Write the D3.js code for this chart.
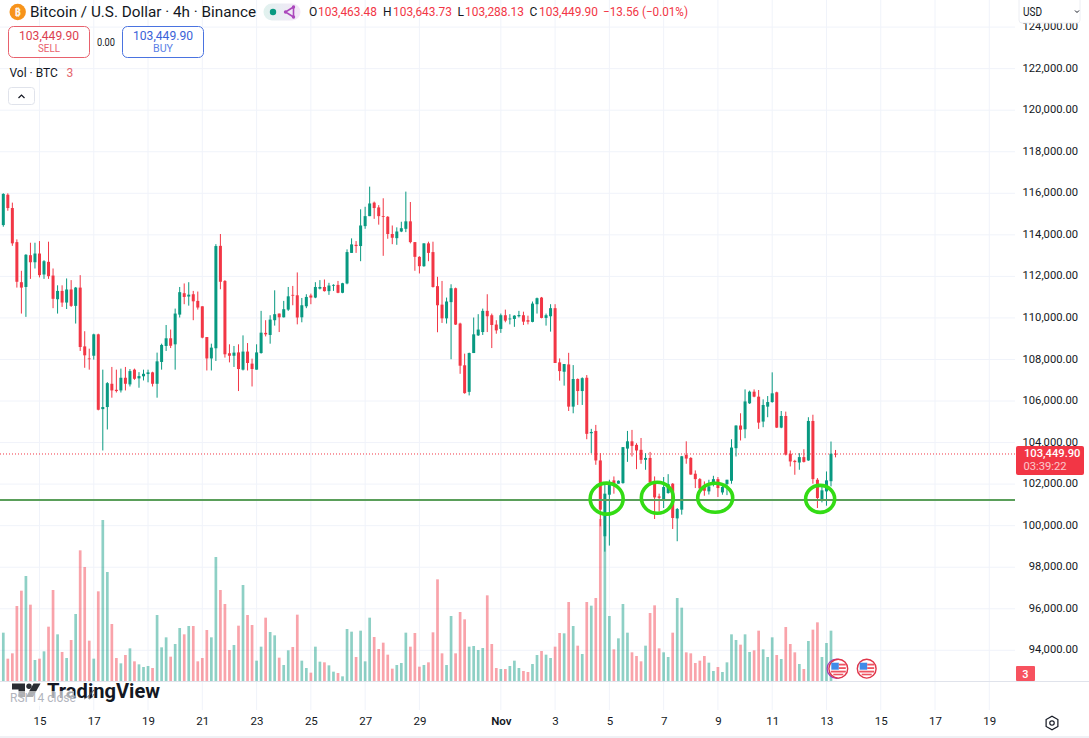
<!DOCTYPE html>
<html>
<head>
<meta charset="utf-8">
<title>BTC/USD 4h</title>
<script src="https://cdn.jsdelivr.net/npm/d3@7/dist/d3.min.js"></script>
<style>
  html, body { margin: 0; padding: 0; background: #fff; }
  svg { display: block; }
  text { font-family: "Roboto", "Noto Sans", sans-serif; }
</style>
</head>
<body>
<svg id="chart" width="1089" height="738"></svg>
<script>
// 4h candles, oldest first: [open, high, low, close]
const ohlc = [
[114470,116000,114390,115970],[115930,116000,115160,115290],[115290,115550,113470,113590],[113650,113780,111460,111740],
[111720,112270,110210,111460],[111490,113070,110050,113040],[113020,113620,111880,112680],[112680,113620,112380,113100],
[113100,113700,111950,112060],[112090,112780,111880,112730],[112700,113670,111880,112010],[112040,112380,110470,110920],
[110900,111570,110210,111300],[111300,111570,110530,110740],[110740,111900,110430,111370],[111370,111820,110530,110580],
[110580,111490,109730,111460],[111460,112060,108410,108600],[108630,109360,107600,108200],[108050,108520,107510,108020],
[108180,109240,107990,109210],[109210,109240,105550,105580],[105610,107510,103620,105710],[105710,106910,104630,106860],
[106830,107640,106160,106510],[106540,107510,106410,106480],[106510,107560,106410,107120],[107120,107640,106510,106830],
[106800,107540,106700,107440],[107510,107560,107020,107070],[107090,107390,106640,107200],[107190,107510,106990,107310],
[107300,107510,106900,107380],[107380,107410,106700,106830],[106830,108330,106160,107910],[107880,108760,107510,108700],
[108650,109660,108410,109020],[109020,109440,108550,108660],[108730,110450,107510,110210],[110160,111490,110020,111240],
[111190,111660,110660,111010],[111030,111720,110590,111120],[111140,111300,109890,110800],[110820,111270,110400,110500],
[110560,110560,109020,109050],[109080,109080,107470,108050],[108050,108760,107470,108570],[108540,113550,107930,113460],
[113470,114040,111380,111740],[111780,111820,108090,108250],[108300,108730,107860,108180],[108180,108650,107640,108330],
[108340,108730,106480,107540],[107510,109160,107470,108380],[108380,108790,107470,107830],[107800,108040,106700,107540],
[107510,108730,107510,108340],[108310,110340,108280,109290],[109280,109890,109110,109210],[109180,110130,108760,109920],
[109890,111330,109630,110180],[110210,110210,109320,110030],[110030,110820,110020,110420],[110400,111490,110340,111040],
[111110,111540,110610,111080],[111090,112190,109690,110020],[110030,110960,109790,110610],[110560,111140,110470,111010],
[111080,111170,110660,110980],[110980,111720,110950,111490],[111410,111820,111370,111490],[111490,111850,111270,111290],
[111290,111690,111110,111560],[111560,111620,111300,111590],[111590,111780,111190,111210],[111210,111690,111190,111670],
[111660,113300,111620,113170],[113130,113830,113130,113540],[113520,113700,113130,113460],[113460,115230,112730,114450],
[114420,115350,114290,114900],[114900,116320,114900,115510],[115550,115600,114770,115290],[115320,115430,114490,114900],
[114900,115760,112990,114890],[114870,114900,113810,114040],[114040,114450,113550,113860],[113840,114360,113520,114160],
[114160,114630,114130,114320],[114290,116080,114130,114650],[114650,115580,113590,113650],[113650,113650,112270,112940],
[112940,112970,112140,112490],[112490,113590,112460,113590],[113590,113670,112730,113130],[113170,113670,111460,111490],
[111530,111980,109310,110610],[110640,111780,109760,109980],[109980,110980,109730,110790],[110760,111620,108010,111430],
[111430,111460,109660,109680],[109730,109770,107310,107700],[107720,108280,106350,106380],[106440,108330,106270,108310],
[108310,110020,108310,109210],[109160,110180,109130,109440],[109320,110450,109180,110340],[110340,111140,109320,110080],
[110130,110210,108550,109660],[109680,109890,109240,109400],[109470,110210,109280,110130],[110130,110400,109790,109870],
[109950,110180,109690,109970],[109950,110130,109570,110110],[110080,110340,110020,110140],[110130,110300,109660,109820],
[109890,110110,109690,109820],[109810,110790,109790,110690],[110660,110980,110210,110950],[110980,111010,109980,110000],
[110000,110210,109630,110130],[110080,110660,109340,110470],[110470,110660,107830,107830],[107860,108050,106980,107440],
[107410,107780,106740,107780],[107760,108320,105520,105730],[105730,107730,105410,107060],[107060,107090,105810,106480],
[106480,107140,105810,107100],[107120,107250,104160,104420],[104450,104660,103490,104510],[104560,104850,102930,103140],
[103140,103490,99970,100770],[99490,102020,98750,101540],[101490,102210,99040,102020],[102180,102370,101540,102020],
[102020,102180,102020,102160],[102050,103780,102020,103780],[103710,104560,103070,104060],[104060,104610,103330,103840],
[103890,103970,102720,103620],[103650,104220,102980,103170],[103170,103490,102690,103260],[103260,103550,102050,102080],
[102080,102370,100320,101360],[101410,101540,100690,101340],[101250,102340,100850,101860],[101570,102480,101540,102000],
[102020,102050,99840,100370],[100350,100850,99250,100800],[100770,103360,100530,103340],[103410,104060,102980,103230],
[103260,103300,102450,102460],[102500,102660,101810,102240],[102240,102290,101760,101790],[101950,102130,101440,101680],
[101650,102210,101500,101890],[102050,102400,101890,102240],[102240,102340,101380,101810],[101600,102050,101490,101860],
[102000,102210,101470,102210],[102160,104160,102020,103760],[103730,104830,103330,104820],[104820,105410,104100,104620],
[104640,106560,104210,105980],[105890,106500,105860,106450],[106450,106560,106180,106210],[106210,106530,104660,104960],
[105010,106080,104740,105810],[105730,106240,105220,105950],[105950,107380,105920,106370],[106420,106450,104700,104720],
[104720,105520,104690,105280],[105280,105490,103380,103420],[103460,103620,102850,103090],[103120,103170,102450,103060],
[103040,103490,102690,103300],[103300,103680,103040,103070],[103140,105220,103120,105040],[105040,105340,102020,102240],
[102210,102290,100850,101330],[101280,101920,101120,101700],[101650,102610,100960,102180],[102140,104050,101890,103463.48],
[103463.48,103643.73,103288.13,103449.90]
];

// Traded volume per bar, in BTC
const volumes = [
1450,670,830,2250,2710,3150,2290,630,670,890,
1630,2730,1400,870,690,1230,2010,3920,3420,1210,
670,2690,4830,3270,1710,690,530,780,980,590,
500,420,450,390,1980,1010,1310,730,1110,1590,
1400,1650,1650,590,690,1530,1310,3720,2730,2310,
930,1080,1660,2880,1980,1680,610,1030,1900,1470,
1370,700,480,920,1020,1990,610,390,250,1030,
580,560,470,280,240,140,1560,1480,720,1510,
590,1900,1320,960,1150,790,370,480,540,1450,
1030,1440,430,480,560,1460,3050,830,480,1950,
830,2070,1850,1030,1050,930,990,2570,1110,390,
360,360,450,610,390,300,270,510,780,900,
790,690,1030,1440,1430,2370,1650,1060,810,2370,
2260,2490,4860,4350,1950,950,1280,2310,1450,860,
750,590,1060,2040,2270,980,860,720,1450,2490,
2200,860,830,540,610,750,550,300,420,270,
560,1400,1230,1090,1400,870,920,1510,950,720,
1310,780,660,1620,1110,860,510,360,1200,1540,
1760,720,1140,1510,3
];

const priceTicks = d3.range(94000, 124001, 2000);

// Labelled calendar days on the time axis
const tickDates = [
  "2025-10-15","2025-10-17","2025-10-19","2025-10-21","2025-10-23","2025-10-25","2025-10-27","2025-10-29",
  "2025-11-01","2025-11-03","2025-11-05","2025-11-07","2025-11-09","2025-11-11","2025-11-13","2025-11-15",
  "2025-11-17","2025-11-19"
];
const tickLabels = ["15","17","19","21","23","25","27","29","Nov","3","5","7","9","11","13","15","17","19"];

const lastPrice = 103449.90;
const supportLevel = 101240;

// Hand-drawn retests of the support level: bar position and price of each ring
const ringBars = [133.4, 144.6, 157.4, 180.6];
const ringPrices = [101300, 101340, 101340, 101290];
const ringRadii = [[16.5, 15.5], [16, 15.5], [17.5, 14.5], [14.5, 13.5]];

const RED = "#f23645", GREEN = "#089981", BLUE = "#2962ff", INK = "#131722", GRID = "#f0f3fa";
const BAR_MS = 4 * 3600 * 1000;
const t0 = Date.UTC(2025, 9, 13, 16);
const barTime = i => new Date(t0 + i * BAR_MS);

const x = d3.scaleUtc().domain([barTime(0), new Date(Date.UTC(2025, 10, 19))]).range([3.3, 989.3]);
const y = d3.scaleLinear().domain([124000, 94000]).range([27.1, 650.3]);
const yVol = d3.scaleLinear().domain([0, 4860]).range([681, 519]);

const svg = d3.select("#chart");
const PLOT_RIGHT = 1015;

function label(parent, px, py, str, o = {}) {
  const t = parent.append("text").attr("x", px).attr("y", py).text(str)
    .attr("font-size", o.size || 12).attr("fill", o.fill || INK)
    .attr("text-anchor", o.anchor || "start").attr("dominant-baseline", "central");
  if (o.weight) t.attr("font-weight", o.weight);
  if (o.family) t.attr("font-family", o.family);
  if (o.opacity) t.attr("opacity", o.opacity);
  if (o.len) t.attr("textLength", o.len).attr("lengthAdjust", "spacingAndGlyphs");
  return t;
}

// Grid
const grid = svg.append("g");
grid.selectAll("line.h").data(priceTicks).join("line").attr("class", "h")
  .attr("x1", 0).attr("x2", PLOT_RIGHT).attr("y1", d => y(d)).attr("y2", d => y(d))
  .attr("stroke", GRID);
grid.selectAll("line.v").data(tickDates).join("line").attr("class", "v")
  .attr("x1", d => x(new Date(d))).attr("x2", d => x(new Date(d)))
  .attr("y1", 0).attr("y2", 710).attr("stroke", GRID);

// Pane separators
svg.append("line").attr("x1", 0).attr("x2", 1089).attr("y1", 681.5).attr("y2", 681.5).attr("stroke", "#e0e3eb");
svg.append("line").attr("x1", 0).attr("x2", 1089).attr("y1", 737).attr("y2", 737).attr("stroke", "#e0e3eb");

// Volume columns
const isUp = i => ohlc[i][3] >= ohlc[i][0];
svg.append("g").selectAll("rect").data(volumes).join("rect")
  .attr("x", (d, i) => x(barTime(i)) - 1.35)
  .attr("width", 2.7)
  .attr("y", d => yVol(d))
  .attr("height", d => yVol(0) - yVol(d))
  .attr("fill", (d, i) => isUp(i) ? GREEN : RED)
  .attr("fill-opacity", 0.46);

// Last-price line sits behind the candles
svg.append("line").attr("x1", 0).attr("x2", PLOT_RIGHT)
  .attr("y1", y(lastPrice)).attr("y2", y(lastPrice))
  .attr("stroke", RED).attr("stroke-width", 1).attr("stroke-dasharray", "1 2");

// Candles
const candles = svg.append("g").selectAll("g").data(ohlc).join("g")
  .attr("fill", d => d[3] >= d[0] ? GREEN : RED)
  .attr("stroke", d => d[3] >= d[0] ? GREEN : RED);
candles.append("line")
  .attr("x1", (d, i) => x(barTime(i))).attr("x2", (d, i) => x(barTime(i)))
  .attr("y1", d => y(d[1])).attr("y2", d => y(d[2])).attr("stroke-width", 1);
candles.append("rect")
  .attr("x", (d, i) => x(barTime(i)) - 1.5).attr("width", 3)
  .attr("y", d => y(Math.max(d[0], d[3])))
  .attr("height", d => Math.max(0.8, Math.abs(y(d[0]) - y(d[3]))))
  .attr("stroke", "none");

// Support level and the rings marking each retest
svg.append("line").attr("x1", 0).attr("x2", PLOT_RIGHT)
  .attr("y1", y(supportLevel)).attr("y2", y(supportLevel))
  .attr("stroke", "#5a9f5a").attr("stroke-width", 2);
svg.append("g").selectAll("ellipse").data(ringBars).join("ellipse")
  .attr("cx", d => x(barTime(d)))
  .attr("cy", (d, i) => y(ringPrices[i]))
  .attr("rx", (d, i) => ringRadii[i][0])
  .attr("ry", (d, i) => ringRadii[i][1])
  .attr("fill", "none").attr("stroke", "#33dc14").attr("stroke-width", 3.6);

// Price axis
const yAxis = d3.axisRight(y).tickValues(priceTicks).tickFormat(d3.format(",.2f")).tickSize(0).tickPadding(0);
const yG = svg.append("g").attr("transform", "translate(1078,0)").call(yAxis);
yG.select(".domain").remove();
yG.selectAll("text").attr("text-anchor", "end").attr("x", 0).attr("dy", "0.32em")
  .attr("y", -1).attr("font-size", 11.2).attr("fill", INK).attr("font-family", "Roboto");

// Time axis
const xAxis = d3.axisBottom(x).tickValues(tickDates.map(d => new Date(d)))
  .tickFormat((d, i) => tickLabels[i]).tickSize(0).tickPadding(0);
const xG = svg.append("g").attr("transform", "translate(0,717)").call(xAxis);
xG.select(".domain").remove();
xG.selectAll("text").attr("font-size", 11.5).attr("fill", INK).attr("font-family", "Roboto")
  .attr("font-weight", (d, i) => tickLabels[i] === "Nov" ? 600 : 400);

// Last-price tag and volume tag on the axis
const tag = svg.append("g");
tag.append("rect").attr("x", 1016).attr("y", 446).attr("width", 68).attr("height", 29).attr("rx", 2).attr("fill", RED);
label(tag, 1024, 453.5, d3.format(",.2f")(lastPrice), { size: 11.2, fill: "#fff", weight: 500 });
label(tag, 1023.5, 466, "03:39:22", { size: 11.2, fill: "#fff", opacity: 0.72 });
tag.append("rect").attr("x", 1016).attr("y", 666).attr("width", 19).attr("height", 15).attr("rx", 1).attr("fill", "#f7525f");
label(tag, 1025.5, 674, "3", { size: 11, fill: "#fff", anchor: "middle", weight: 500 });

// Currency selector
const usd = svg.append("g");
usd.append("rect").attr("x", 1019).attr("y", -4).attr("width", 61).attr("height", 27).attr("rx", 3)
  .attr("fill", "#fff").attr("stroke", "#eceef3");
label(usd, 1023, 11.5, "USD", { size: 12, len: 19 });
usd.append("path").attr("d", "M1075 10.5l2 2 2-2").attr("fill", "none").attr("stroke", INK).attr("stroke-width", 1);

// Settings cog on the axis corner
const cog = svg.append("g").attr("transform", "translate(1052,723)").attr("fill", "none").attr("stroke", INK).attr("stroke-width", 1.2);
cog.append("path").attr("d", d3.range(6).map(k => {
  const a = Math.PI / 3 * k + Math.PI / 6;
  return (k ? "L" : "M") + (6.8 * Math.cos(a)) + " " + (6.8 * Math.sin(a));
}).join("") + "Z");
cog.append("circle").attr("r", 2.2);

// Header: symbol line
const head = svg.append("g");
head.append("circle").attr("cx", 17.7).attr("cy", 12).attr("r", 8.2).attr("fill", "#f7931a");
label(head, 17.7, 12, "₿", { size: 11, fill: "#fff", anchor: "middle", family: "DejaVu Sans", weight: 700, opacity: 0.9 });
label(head, 30, 12, "Bitcoin / U.S. Dollar · 4h · Binance", { size: 14, len: 226 });

const pillGrad = svg.append("defs").append("linearGradient").attr("id", "pill");
pillGrad.append("stop").attr("offset", "0%").attr("stop-color", "#e0f2ee");
pillGrad.append("stop").attr("offset", "100%").attr("stop-color", "#f5e6f8");
head.append("rect").attr("x", 263.5).attr("y", 3.5).attr("width", 37).attr("height", 17).attr("rx", 8.5).attr("fill", "url(#pill)");
head.append("circle").attr("cx", 273).attr("cy", 12).attr("r", 3.2).attr("fill", GREEN);
// Share glyph: three joined nodes
const share = head.append("g").attr("fill", "#ab47bc").attr("stroke", "#ab47bc");
share.append("path").attr("d", "M293.5 7L285.5 12l8 5z").attr("fill", "none").attr("stroke-width", 1.6);
[[285.5, 12], [293.5, 7], [293.5, 17]].forEach(([cx, cy]) => share.append("circle").attr("cx", cx).attr("cy", cy).attr("r", 1.7).attr("stroke", "none"));

[["O", "103,463.48", 309, 318], ["H", "103,643.73", 383, 393], ["L", "103,288.13", 457.5, 465], ["C", "103,449.90", 529.5, 539]]
  .forEach(([k, v, kx, vx]) => {
    label(head, kx, 12, k, { size: 12 });
    label(head, vx, 12, v, { size: 12, fill: RED, len: 59 });
  });
label(head, 603, 12, "−13.56 (−0.01%)", { size: 12, fill: RED, len: 85 });

// Buy / sell buttons
const btn = svg.append("g");
btn.append("rect").attr("x", 8.5).attr("y", 26.5).attr("width", 81).attr("height", 31).attr("rx", 5)
  .attr("fill", "#fff").attr("stroke", "#e8616d");
label(btn, 49, 35.5, "103,449.90", { size: 12, fill: "#dc3f50", anchor: "middle", len: 60 });
label(btn, 49, 48.5, "SELL", { size: 11, fill: "#e8616d", anchor: "middle", len: 22 });
label(btn, 106, 42, "0.00", { size: 11, anchor: "middle", len: 18 });
btn.append("rect").attr("x", 122.5).attr("y", 26.5).attr("width", 81).attr("height", 31).attr("rx", 5)
  .attr("fill", "#fff").attr("stroke", "#4a73e0");
label(btn, 163, 35.5, "103,449.90", { size: 12, fill: "#3a62d8", anchor: "middle", len: 60 });
label(btn, 163, 48.5, "BUY", { size: 11, fill: "#5b7fe6", anchor: "middle", len: 20 });

// Volume legend and collapse button
label(svg, 9.5, 73, "Vol · BTC", { size: 12 });
label(svg, 66.5, 73, "3", { size: 12, fill: "#e5656e" });
svg.append("rect").attr("x", 8.5).attr("y", 87.5).attr("width", 26).attr("height", 17).attr("rx", 3)
  .attr("fill", "#fff").attr("stroke", "#e0e3eb");
svg.append("path").attr("d", "M18.5 98l3-3 3 3").attr("fill", "none").attr("stroke", INK).attr("stroke-width", 1.2);

// Event flags next to the last bars
function flag(cx, cy, ring) {
  const g = svg.append("g").attr("transform", `translate(${cx},${cy})`);
  if (ring) g.append("circle").attr("cx", -1.6).attr("r", 9.6).attr("fill", "none").attr("stroke", "#a13bb5").attr("stroke-width", 1.2);
  g.append("circle").attr("r", 9.4).attr("fill", "#fff").attr("stroke", "#e0364a").attr("stroke-width", 1.4);
  g.append("rect").attr("x", -7).attr("y", -6).attr("width", 7.5).attr("height", 7).attr("fill", "#3f8be8");
  [-5, -1.5].forEach(s => g.append("rect").attr("x", 0.5).attr("y", s).attr("width", 7).attr("height", 1.8).attr("fill", "#ef5361"));
  g.append("rect").attr("x", -7.5).attr("y", 2).attr("width", 15).attr("height", 1.8).attr("fill", "#ef5361");
  g.append("rect").attr("x", -5).attr("y", 5).attr("width", 10).attr("height", 1.6).attr("fill", "#ef5361");
}
flag(838.3, 668.7, true);
flag(866.7, 668.7, false);

// Platform logo
const logo = svg.append("g").attr("fill", "#2a2d33");
logo.append("path").attr("d", "M12 683.5h13v13.5h-6.5v-7.5H12z");
logo.append("circle").attr("cx", 29).attr("cy", 686.2).attr("r", 2.7);
logo.append("path").attr("d", "M33.5 683.5h7L33 697h-7z");
label(logo, 47, 690.5, "TradingView", { size: 20, weight: 700, len: 113, fill: "#131722", family: "Inter" });

// Study caption laid over the logo, with its translucent backing
svg.append("rect").attr("x", 8).attr("y", 691).attr("width", 66).attr("height", 15)
  .attr("fill", "#fff").attr("fill-opacity", 0.62);
label(svg, 10, 697.5, "RSI 14 close", { size: 12, fill: "#b2b5be" });

// Pen scribble crossing the logo
svg.append("path").attr("d", "M84 699c3-1 8-6 10-9c-3 2-6 5-5 9c2 0 4-3 5-5")
  .attr("fill", "none").attr("stroke", "#55585f").attr("stroke-width", 0.8);
</script>
</body>
</html>
